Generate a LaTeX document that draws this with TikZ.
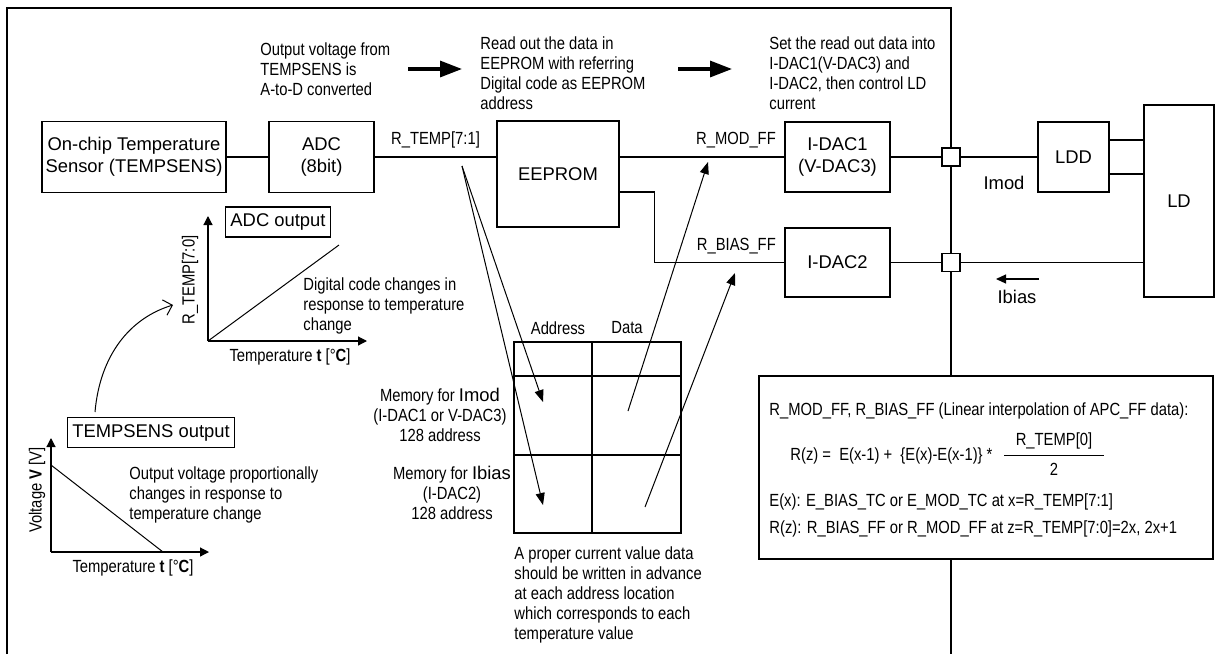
\documentclass[tikz,border=0pt]{standalone}
\usepackage{fontspec}
\setmainfont{Liberation Sans}
\newfontfamily\narrowfont[FakeStretch=0.84]{Liberation Sans}
\usetikzlibrary{arrows.meta,positioning,calc}

\tikzset{
  blk/.style={draw, line width=0.6pt, font=\fontsize{9.2}{11}\selectfont, align=center, inner sep=0pt},
  jn/.style={draw, line width=0.6pt, fill=white, minimum size=9pt, inner sep=0pt},
  note/.style={font=\narrowfont\fontsize{8.8}{10}\selectfont, align=left, inner sep=0pt, anchor=north west},
  lbl/.style={font=\narrowfont\fontsize{8.8}{10}\selectfont, inner sep=0pt},
  lblA/.style={font=\fontsize{9.2}{11}\selectfont, inner sep=0pt},
  tag/.style={draw, line width=0.6pt, font=\fontsize{9.2}{11}\selectfont, inner xsep=2.5pt, minimum height=14pt},
  wire/.style={line width=0.6pt},
  thinarr/.style={line width=0.5pt, -{Triangle[length=6pt,width=4.5pt]}},
  bigarr/.style={line width=1.6pt, -{Triangle[length=11pt,width=8pt]}},
  axis/.style={line width=0.6pt, -{Triangle[length=4.5pt,width=4.5pt]}}
}

\begin{document}
\begin{tikzpicture}[x=0.5pt, y=-0.5pt]
\useasboundingbox (0,0) rectangle (1215,654);

% module frame
\draw[wire] (7,654) -- (7,8) -- (951,8) -- (951,654);

% signal chain
\node[blk, minimum width=92pt, minimum height=35.5pt] (sens) at (134,157) {On-chip Temperature\\Sensor (TEMPSENS)};
\node[blk, minimum width=52.5pt, minimum height=35.5pt] (adc) at (321.5,157) {ADC\\(8bit)};
\node[blk, minimum width=61pt, minimum height=53pt] (eep) at (558,174) {EEPROM};
\node[blk, minimum width=52.5pt, minimum height=35pt] (idac1) at (837.5,157) {I-DAC1\\(V-DAC3)};
\node[blk, minimum width=52.5pt, minimum height=34.5pt] (idac2) at (837.5,262.5) {I-DAC2};
\node[blk, minimum width=35.5pt, minimum height=35pt] (ldd) at (1073.5,157) {LDD};
\node[blk, minimum width=35pt, minimum height=96pt] (ld) at (1179,201) {LD};
\node[jn] (jmod) at (951,157) {};
\node[jn] (jbias) at (951,262.5) {};

\draw[wire] (sens) -- (adc);
\draw[wire] (adc.east) -- node[lbl, above=4pt] {R\_TEMP[7:1]} (adc.east -| eep.west);
\draw[wire] (eep.east |- idac1.west) -- (idac1.west) node[lbl, above left=4pt and 4pt] {R\_MOD\_FF};
\coordinate (eepB) at ([yshift=-9pt]eep.east);
\draw[wire] (eepB) -- ++(35,0) |- (idac2.west) node[lbl, above left=4pt and 4pt] {R\_BIAS\_FF};
\draw[wire] (idac1) -- (jmod);
\draw[wire] (jmod) -- (ldd);
\draw[wire] (idac2) -- (jbias);
\draw[wire] (jbias) -- (jbias -| ld.west);
\coordinate (lddA) at ([yshift=8.5pt]ldd.east);
\coordinate (lddB) at ([yshift=-8.5pt]ldd.east);
\draw[wire] (lddA) -- (lddA -| ld.west);
\draw[wire] (lddB) -- (lddB -| ld.west);

\node[lblA] (imod) at (1004,183) {Imod};
\coordinate (ibS) at (1039,279);
\coordinate (ibE) at (996,279);
\draw[line width=0.6pt, -{Triangle[length=5pt,width=4.5pt]}] (ibS) -- (ibE);
\node[lblA] (ibias) at (1017,297) {Ibias};

% steps along the top
\node[note] (stepA) at (260,42) {Output voltage from\\TEMPSENS is\\A-to-D converted};
\node[note] (stepB) at (480,36) {Read out the data in\\EEPROM with referring\\Digital code as EEPROM\\address};
\node[note] (stepC) at (769,36) {Set the read out data into\\I-DAC1(V-DAC3) and\\I-DAC2, then control LD\\current};
\coordinate (fwA) at (408,69);
\coordinate (fwAe) at (462,69);
\coordinate (fwB) at (678,69);
\coordinate (fwBe) at (732,69);
\draw[bigarr] (fwA) -- (fwAe);
\draw[bigarr] (fwB) -- (fwBe);

% ADC output graph
\coordinate (ao) at (208,341);
\draw[axis] (ao) -- (208,216);
\draw[axis] (ao) -- (367,341);
\draw[line width=0.5pt] (ao) -- (339,245);
\node[tag] (adcout) at (278,222) {ADC output};
\node[lbl, rotate=90] (ylabA) at (190,280) {R\_TEMP[7:0]};
\node[lbl] (xlabA) at (290,357) {Temperature \textbf{t} [°\textbf{C}]};
\node[note] (digi) at (303,277) {Digital code changes in\\response to temperature\\change};

% TEMPSENS output graph
\coordinate (to) at (51,552);
\draw[axis] (to) -- (51,438);
\draw[axis] (to) -- (209,552);
\draw[line width=0.5pt] (51,465) -- (163,552);
\node[tag] (sensout) at (151,432.5) {TEMPSENS output};
\node[lbl, rotate=90] (ylabB) at (37,490) {Voltage \textbf{V} [V]};
\node[lbl] (xlabB) at (133,568) {Temperature \textbf{t} [°\textbf{C}]};
\node[note] (volt) at (129,466) {Output voltage proportionally\\changes in response to\\temperature change};

\coordinate (cvS) at (95,412);
\coordinate (cvE) at (173,305);
\draw[line width=0.5pt, -{Straight Barb[length=4pt,width=8pt]}] (cvS) .. controls (100,355) and (130,318) .. (cvE);

% EEPROM map
\draw[wire] (514,342) rectangle (681,533);
\draw[wire] (592,342) -- (592,533);
\draw[wire] (514,376) -- (681,376);
\draw[wire] (514,455) -- (681,455);
\node[lbl] (addr) at (558,328) {Address};
\node[lbl] (data) at (627,328) {Data};
\node[lbl, align=center, anchor=north] (memA) at (440,388) {Memory for {\fontsize{9.2}{10}\selectfont\normalfont Imod}\\(I-DAC1 or V-DAC3)\\128 address};
\node[lbl, align=center, anchor=north] (memB) at (452,466) {Memory for {\fontsize{9.2}{10}\selectfont\normalfont Ibias}\\(I-DAC2)\\128 address};
\node[note] (proper) at (514,546) {A proper current value data\\should be written in advance\\at each address location\\which corresponds to each\\temperature value};

\coordinate (tap) at (462,166);
\coordinate (adA) at (543,402);
\coordinate (adB) at (543,505);
\draw[thinarr] (tap) -- (adA);
\draw[thinarr] (tap) -- (adB);
\coordinate (dtA) at (628,411);
\coordinate (dtAe) at (708,162);
\coordinate (dtB) at (645,507);
\coordinate (dtBe) at (735,273);
\draw[thinarr] (dtA) -- (dtAe);
\draw[thinarr] (dtB) -- (dtBe);

% interpolation box
\node[draw, line width=0.6pt, fill=white, minimum width=227pt, minimum height=91.5pt, inner sep=0pt] (calc) at (986,467.5) {};
\node[lbl, anchor=west] (cA) at (769,411) {R\_MOD\_FF, R\_BIAS\_FF (Linear interpolation of APC\_FF data):};
\node[lbl, anchor=west] (cB) at (790,456) {R(z) =\ \ E(x-1) +\ \ \{E(x)-E(x-1)\} *};
\node[lbl] (num) at (1054,441) {R\_TEMP[0]};
\node[lbl] (den) at (1054,469) {2};
\draw[line width=0.5pt] (1004,455) -- (1104,455);
\node[lbl, anchor=west] (cC) at (769,502) {E(x): E\_BIAS\_TC or E\_MOD\_TC at x=R\_TEMP[7:1]};
\node[lbl, anchor=west] (cD) at (769,529) {R(z): R\_BIAS\_FF or R\_MOD\_FF at z=R\_TEMP[7:0]=2x, 2x+1};
\end{tikzpicture}
\end{document}
